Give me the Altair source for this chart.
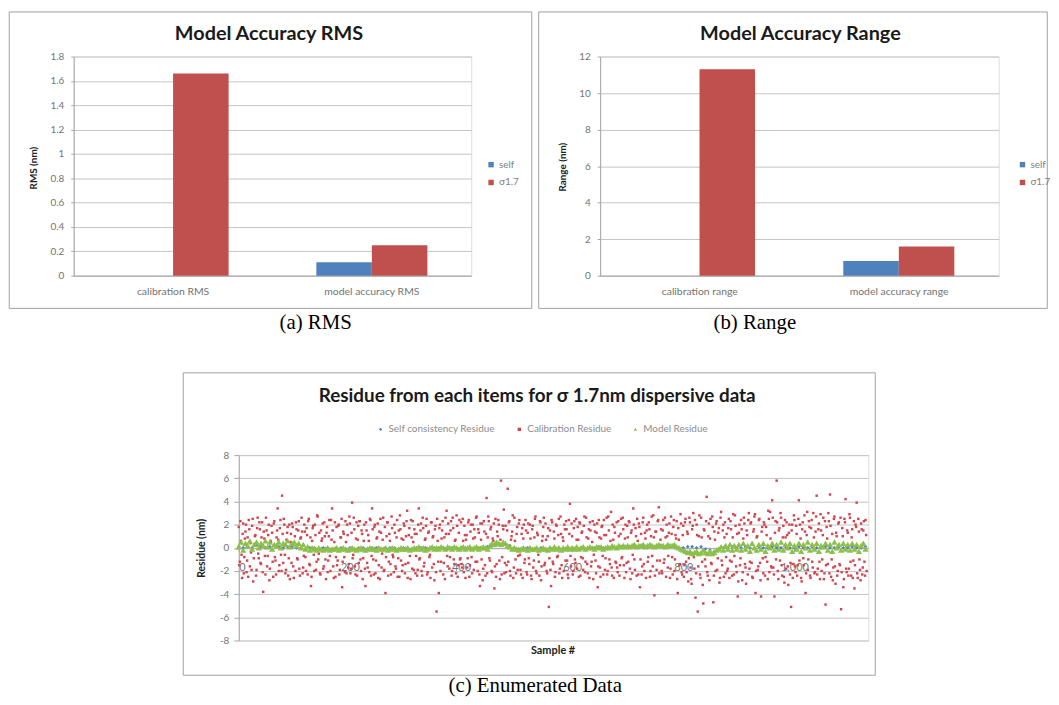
import altair as alt
import pandas as pd

# ---------------- Panel (a) data ----------------
rms_categories = ["calibration RMS", "model accuracy RMS"]
rms_self = [None, 0.11]
rms_sigma = [1.66, 0.25]

# ---------------- Panel (b) data ----------------
range_categories = ["calibration range", "model accuracy range"]
range_self = [None, 0.8]
range_sigma = [11.3, 1.6]

bar_series = ["self", "σ1.7"]
bar_colors = ["#4F81BD", "#C0504D"]

# ---------------- Panel (c) data ----------------
res_series = ["Self consistency Residue", "Calibration Residue", "Model Residue"]
res_colors = ["#4F81BD", "#D0454F", "#8DC04A"]
res_shapes = ["diamond", "square", "triangle-up"]

# Calibration residue at even samples (0, 2, 4, ...)
calib_residue_even = [
    1.8, -1.2, 0.6, -2.6, 2.1, -0.8, 1.4, -2.1, 0.9, 2.4, -1.6, -0.4, 1.9, -2.9, 0.3, 1.1, -1.9, 2.6, -0.9, 1.6,
    -1.4, 2.2, -3.8, 0.8, -2.3, 1.5, -0.7, 2.0, -1.8, 0.5, 1.3, -2.5, 2.3, -1.1, 0.9, 3.4, -2.0, 1.7, -0.6, 4.5,
    -1.3, 2.0, -2.2, 0.7, 1.8, -0.9, -2.7, 1.2, 2.1, -1.6, 0.4, -2.0, 1.6, -1.0, 2.3, -2.4, 0.9, 1.4, -1.7, 2.0,
    -0.8, 1.7, -2.3, 2.5, -1.5, -3.3, 0.6, 1.9, -2.0, 1.1, -1.2, 2.7, -0.5, -2.2, 1.5, 0.8, -1.8, 2.2, -1.0, 1.3,
    -2.1, 1.0, -0.7, 2.4, 3.4, -1.6, 0.5, -2.5, 1.8, -1.1, 2.0, -1.9, 0.9, -3.4, 1.4, -0.8, 2.3, -2.2, 1.1, -1.4,
    2.1, -1.8, 3.9, -0.6, 1.6, -2.3, 2.2, 0.7, -1.3, 2.3, -2.0, 1.2, -0.9, 2.0, -3.3, 1.5, -1.7, 0.6, 2.5, -2.4,
    3.4, -1.0, 1.8, -2.2, 0.8, 2.1, -1.5, -2.7, 1.3, -0.5, 2.6, -1.9, -3.9, 1.0, 2.2, -1.2, 0.6, -2.3, 1.7, -0.8,
    2.0, -1.6, 0.9, -2.5, 1.5, 2.8, -1.1, -2.0, 0.7, 1.9, -1.4, 2.3, -2.6, 1.1, -0.7, 2.4, -1.8, 0.5, 1.6, -2.2,
    1.2, -1.9, 3.4, -0.9, 2.1, -2.4, 1.7, -1.3, 0.8, 2.5, -2.1, 1.4, -0.6, 2.2, -1.7, 1.0, -2.8, 1.9, -5.5, 0.6,
    -3.9, 2.0, -1.2, 1.5, -2.3, 0.9, 2.6, 3.2, -1.6, 1.2, -0.8, 2.3, -2.0, 1.7, -1.4, 0.7, 2.8, -2.5, 1.3, -1.0,
    2.2, -1.7, 0.6, 1.9, -2.6, 1.1, -0.9, 2.4, -1.5, 2.0, -2.2, 0.8, 1.6, -1.2, 2.7, -2.0, 1.3, -3.3, 0.7, 2.1,
    -1.8, 1.4, -2.4, 4.3, 0.9, 2.3, -1.1, 1.8, -2.1, 0.6, -3.5, 2.5, -1.4, 1.0, 2.0, -2.7, 5.8, -0.8, 1.6, -2.2,
    1.9, -1.5, 5.1, 2.2, -2.0, 0.7, 1.4, -2.6, 2.6, -1.0, 1.2, -1.9, 2.1, -0.6, -2.3, 1.7, 0.8, -1.3, 2.4, -2.1,
    1.3, -0.9, 2.0, -2.4, 1.6, -1.7, 0.9, 2.7, -2.2, 1.1, -1.2, 2.3, -2.8, 0.6, 1.8, -1.5, 2.1, -2.0, 1.0, -5.1,
    1.5, -3.3, 2.2, -1.4, 0.8, -2.1, 1.9, -0.7, 2.5, -1.8, 1.2, -2.6, 0.6, 2.0, -1.1, 1.6, -2.3, 2.4, 3.8, -1.6,
    1.0, -2.0, 2.3, -1.3, 0.7, 1.8, -2.5, 2.1, -0.8, 1.4, -1.9, 2.7, -1.2, 0.9, -2.2, 1.6, 2.2, -1.6, 0.5, -2.7,
    2.0, -1.1, 1.3, -3.4, 2.4, -1.7, 0.8, 1.9, -2.3, 1.1, -0.9, 2.6, -2.0, 1.5, -1.4, 3.1, -2.4, 0.7, 1.8, -1.2,
    2.2, -2.1, 1.0, -1.5, 2.5, -0.8, 1.6, -2.6, 2.0, -1.3, 0.9, 2.3, -1.8, 1.3, -2.2, 3.4, -1.0, 1.7, -2.4, 0.6,
    2.1, -3.4, 1.2, -1.6, 2.6, -2.0, 0.8, 1.5, -1.2, 2.2, -2.5, 1.0, -0.7, 2.8, -4.1, 1.4, -1.9, 2.3, 3.5, -1.1,
    1.6, -2.2, 2.4, -1.0, 0.9, 2.0, -1.7, 1.3, -2.6, 2.7, -0.8, 1.8, -2.0, 1.1, 2.3, -3.9, 0.7, -1.4, 2.1, -2.3,
    1.9, -1.5, 2.5, -2.1, 1.2, -0.9, 2.2, -2.7, 1.6, 3.0, -1.8, -4.3, 2.0, -5.5, 1.0, -2.3, 2.6, -1.2, -4.8, 1.5,
    -1.6, 4.4, -2.4, 2.1, 0.8, -1.3, 2.7, -4.7, 1.4, -2.0, 2.3, -0.9, 1.7, -2.6, 3.1, -1.5, 2.0, 0.9, -2.2, 1.2,
    -1.8, 2.5, -1.1, 1.6, -2.4, 2.9, -0.7, 1.9, -2.1, -4.2, 1.3, -1.5, 2.4, -2.8, 0.8, 2.1, -1.7, 1.5, -2.3, 3.0,
    -1.2, 2.2, -2.5, 1.4, 2.7, -3.9, 0.9, -1.9, 2.4, -1.3, -4.2, 1.8, -2.2, 2.0, -0.8, 1.1, -2.7, 2.5, 3.1, -1.6,
    4.1, -1.7, -4.2, 2.3, 5.8, -2.0, 1.5, -1.1, 2.6, -2.4, 1.9, -3.0, 0.9, 2.2, -1.6, 1.3, -2.3, -5.1, 2.0, -1.4,
    2.4, -2.1, 1.2, -1.5, 4.1, 2.0, -2.6, 1.6, -0.9, 2.8, -3.9, 1.1, -1.9, 2.3, -2.4, 1.7, -1.2, 3.0, -2.2, 1.4,
    4.5, -1.8, 2.1, -2.7, 1.5, -1.0, 2.6, -2.2, -4.9, 1.8, -1.4, 2.3, 4.6, -2.5, 1.2, -1.7, 2.7, -3.1, 1.0, -2.0,
    2.2, -1.5, -5.3, 1.7, -3.4, 2.5, 4.2, -2.1, 1.3, -1.8, 2.6, -2.4, 1.6, -1.1, -3.5, 2.0, 3.9, -2.6, 1.4, -1.9,
    2.1, -2.3, 1.5, -1.2, 2.4, -2.0,
]

# Calibration residue at odd samples (1, 3, 5, ...)
calib_residue_odd = [
    -1.5, 2.3, -0.6, 1.2, -2.2, 0.8, 2.0, -1.1, -2.5, 1.6, 0.4, -1.9, 2.5, -0.9, 1.0, -2.4, 1.7, -0.5, 2.2, -1.3,
    0.9, -2.1, 1.4, -0.7, 2.6, -1.6, 1.1, -2.8, 0.6, 1.9, -1.2, 2.1, -0.8, -2.3, 1.5, 0.7, -1.5, 2.4, -2.0, 1.2,
    2.5, -0.6, -1.9, 1.3, -2.4, 2.0, 0.5, -1.3, 1.8, -2.6, 1.0, 2.2, -0.9, 1.5, -1.8, 0.8, 2.6, -2.2, -0.7, 1.4,
    -2.0, 1.1, 2.3, -1.4, 0.9, -2.5, 1.7, -0.6, 2.0, -1.9, 2.8, -1.0, 1.3, -2.3, 0.6, 2.1, -1.6, 1.0, -2.7, 1.8,
    -1.1, 2.4, -2.0, 0.7, 1.5, -2.6, 2.2, -0.8, -1.5, 1.9, -2.3, 0.9, 2.5, -1.2, 1.2, -2.1, 0.5, 2.0, -1.7, 2.7,
    -2.2, 1.3, -0.9, 2.6, -1.6, 0.8, -2.4, 1.9, 2.3, -1.0, 1.5, -2.7, 0.6, -1.8, 2.2, -1.3, 1.1, -2.1, 2.4, -0.7,
    1.6, -2.3, 2.0, -1.1, 0.9, -2.6, 1.4, 2.5, -1.7, 0.7, -2.0, 1.8, -0.8, 2.2, -2.4, 1.2, -1.4, 2.7, -0.6, -2.1,
    1.3, -1.8, 2.4, -0.9, -2.5, 1.6, 0.8, -1.5, 2.1, -2.2, 1.0, 3.2, -1.3, 1.7, -2.7, 0.9, 2.3, -1.9, 1.2, -0.7,
    -2.4, 2.0, -1.0, 1.5, -2.0, 2.6, -1.6, 0.7, 1.9, -2.3, 1.3, -0.8, -2.6, 2.2, 0.9, -1.4, 1.6, -2.1, 2.5, -1.2,
    1.7, -2.0, 0.8, 2.3, -1.3, -2.7, 1.2, -0.7, 2.1, -1.8, 1.5, -2.4, 2.6, -1.0, 0.6, -2.2, 1.9, -1.5, 2.4, -0.9,
    -1.4, 2.5, -2.1, 1.1, 0.7, -1.7, 2.2, -2.5, 1.4, -0.8, 2.0, -1.9, 0.9, 2.6, -1.2, 1.6, -2.3, 2.1, -1.0, -2.8,
    2.3, -1.5, 1.2, -2.2, 2.7, -0.9, 1.6, -2.0, 0.8, 2.1, -1.6, -2.5, 1.4, 2.4, -1.1, 0.7, -2.3, 1.9, 3.3, -1.3,
    -2.1, 1.5, -1.2, 2.3, -2.4, 1.0, 2.8, -1.7, 0.6, -2.2, 1.8, -0.7, 2.4, -1.9, 1.2, -2.6, 2.0, -1.0, 1.5, -2.3,
    2.1, -1.4, 0.8, -2.7, 1.9, -1.1, 2.5, -2.0, 1.3, -0.6, -2.4, 2.2, -1.6, 1.0, 2.6, -1.3, 0.7, -2.2, 1.7, -0.9,
    -1.9, 2.4, -1.2, 1.4, -2.5, 2.0, -0.8, 1.1, -2.2, 2.7, -1.5, 0.9, -2.0, 1.6, 2.3, -1.1, -2.6, 1.2, -0.7, 2.1,
    -2.3, 1.7, -1.0, 2.5, -1.8, 0.7, 2.2, -2.4, 1.3, -0.9, 1.9, -2.1, 2.6, -1.4, 0.8, -2.6, 1.5, -1.2, 2.3, -0.6,
    1.4, -2.2, 2.1, -1.6, 0.9, -2.5, 1.8, -0.7, 2.4, -1.9, 1.1, -2.3, 2.7, -1.0, 0.6, -1.7, 2.0, -2.6, 1.3, -1.3,
    -1.7, 2.3, -2.4, 1.2, -0.9, 2.6, -1.5, 0.8, -2.1, 1.9, -1.2, 2.2, -2.7, 1.5, -0.6, 2.0, -1.9, 1.0, 2.5, -2.3,
    1.8, -1.0, -2.3, 2.2, -1.4, 1.3, -2.6, 2.0, -0.8, 1.6, -2.0, 2.7, -1.6, 0.9, -2.4, 1.4, -1.1, 2.4, -2.2, 0.7,
    -2.0, 1.5, -1.3, 2.6, -2.5, 1.0, -0.7, 2.1, -1.8, 1.2, -2.3, 2.4, -1.0, 0.8, -2.7, 1.7, -1.5, 2.9, -2.1, 1.1,
    -2.5, 2.2, -1.2, 1.4, -2.9, 2.6, -1.7, -3.1, 1.9, -0.8, 2.4, -2.2, 1.1, -1.6, 2.8, -2.6, 0.9, -3.2, 1.6, -1.0,
    2.3, -2.1, 1.0, -2.8, 2.5, -1.4, 1.8, -2.4, 0.7, 2.1, -1.9, 1.3, -3.0, 2.6, -1.1, 1.5, -2.5, 2.2, -0.8, -2.0,
    1.7, -2.6, 2.3, -1.2, 0.9, -2.3, 2.8, -1.6, 1.2, -2.9, 2.0, -0.9, 1.6, -2.1, 2.6, -1.4, -3.1, 1.1, 2.4, -1.8,
    2.1, -1.3, -2.6, 1.6, 2.9, -2.0, 1.0, -1.6, 2.5, -2.8, 1.4, -0.9, 2.2, -2.4, 1.8, -1.2, 3.2, -2.1, 0.8, -1.7,
    2.6, -2.3, 1.3, -1.0, 2.2, -2.7, 1.7, 3.0, -1.5, 0.9, -2.5, 2.4, -1.8, 1.1, -3.2, 2.0, -1.3, 1.5, -2.6, 2.8,
    -1.6, 1.9, -2.4, 2.5, -1.1, 0.8, -2.9, 2.2, -1.5, 1.4, -2.2, 3.1, -1.0, 1.8, -2.6, 2.4, -1.7, 0.9, -2.1, 2.7,
    -2.3, 1.6, -1.2, 2.9, -2.0, 1.1, -2.7, 2.3, -1.5, 0.8, 3.0, -2.2, 1.9, -1.0, -2.8, 2.5, -1.6, 1.3, -2.4, 2.1,
    -1.4, 2.6, -2.1, 1.0, -2.7, 2.2, -1.8, 1.5, -2.4, 2.9, -1.2, 0.9, -2.6, 2.3, -1.5, 1.8, -2.2, 2.5, -1.0, -2.8,
    1.6, -1.7, 2.3, -2.4, 1.1,
]

# Model residue, every 4th sample (0, 4, 8, ...)
model_residue = [
    0.1, 0.5, -0.2, 0.4, 0.2, 0.6, -0.1, 0.3, 0.5, 0.0, 0.4, 0.2, 0.6, 0.1, 0.5, -0.1, 0.3, 0.2, 0.5, 0.0, 0.4, 0.3, 0.6, 0.1, 0.4,
    0.5, 0.2, 0.4, 0.0, 0.3, -0.1, 0.1, -0.2, 0.0, -0.1, -0.2, 0.0, -0.1, -0.2, -0.1, 0.0, -0.2, -0.1, -0.1, 0.0, -0.2, -0.1, 0.0, -0.1, -0.2,
    -0.1, 0.0, -0.1, -0.2, -0.1, 0.0, -0.1, -0.2, -0.1, 0.0, -0.1, -0.1, -0.2, 0.0, -0.1, -0.1, 0.0, -0.2, -0.1, 0.0, -0.1, -0.2, -0.1, 0.0, -0.1,
    -0.1, 0.0, -0.2, -0.1, 0.0, -0.1, 0.1, -0.1, 0.0, -0.2, -0.1, 0.0, 0.1, -0.1, 0.0, -0.1, 0.1, 0.0, -0.1, 0.1, 0.0, -0.1, 0.1, 0.0, -0.1,
    0.0, 0.1, -0.1, 0.0, 0.1, -0.1, 0.0, 0.1, -0.1, 0.0, 0.1, 0.0, -0.1, 0.2, 0.4, 0.3, 0.5, 0.4, 0.3, 0.5, 0.4, 0.2, 0.1, -0.1, 0.0,
    -0.1, -0.2, -0.1, 0.0, -0.1, -0.2, 0.0, -0.1, -0.1, 0.0, -0.2, -0.1, 0.0, -0.1, -0.2, 0.0, -0.1, 0.1, -0.1, 0.0, -0.2, 0.0, -0.1, 0.1, -0.1,
    0.0, -0.1, 0.1, -0.1, 0.0, 0.1, -0.1, 0.0, 0.1, 0.0, -0.1, 0.1, 0.0, 0.1, -0.1, 0.0, 0.1, 0.0, 0.2, 0.1, 0.0, 0.2, 0.1, 0.2, 0.1,
    0.2, 0.1, 0.2, 0.3, 0.1, 0.2, 0.2, 0.3, 0.1, 0.2, 0.3, 0.2, 0.1, 0.2, 0.3, 0.2, 0.2, 0.1, 0.3, 0.2, 0.2, 0.3, 0.1, 0.0, -0.1,
    -0.2, -0.3, -0.4, -0.3, -0.5, -0.4, -0.3, -0.5, -0.4, -0.2, -0.4, -0.5, -0.3, -0.5, -0.4, -0.2, -0.1, 0.1, -0.2, 0.2, -0.1, 0.3, -0.2, 0.2, -0.1,
    0.3, -0.2, 0.4, -0.1, 0.2, -0.3, 0.4, 0.0, -0.2, 0.3, -0.1, 0.4, -0.3, 0.2, 0.0, 0.4, -0.2, 0.3, -0.1, 0.5, -0.2, 0.3, 0.0, 0.4, -0.3,
    0.2, -0.1, 0.4, -0.3, 0.3, 0.0, 0.5, -0.2, 0.3, -0.1, 0.4, -0.3, 0.2, 0.1, 0.4, -0.2, 0.3, -0.3, 0.5, 0.0, 0.3, -0.2, 0.4, -0.1, 0.3,
    -0.2, 0.4, -0.1, 0.3, -0.3, 0.2, 0.4, -0.1,
]

# Self-consistency residue, every 8th sample (0, 8, 16, ...)
self_residue = [
    0.1, 0.0, 0.1, 0.0, 0.2, 0.1, 0.0, 0.1, 0.2, 0.1, 0.0, 0.1, 0.1, 0.0, 0.0, -0.1, 0.0, 0.0, -0.1, 0.0, 0.0, -0.1, 0.0, 0.0, -0.1,
    0.0, -0.1, 0.0, 0.0, -0.1, 0.0, 0.0, -0.1, 0.0, 0.0, 0.0, -0.1, 0.0, 0.0, -0.1, 0.0, 0.0, 0.0, -0.1, 0.0, 0.0, 0.0, -0.1, 0.0, 0.0,
    0.0, 0.0, -0.1, 0.0, 0.0, 0.0, 0.1, 0.2, 0.3, 0.3, 0.3, 0.2, 0.0, -0.1, 0.0, 0.0, -0.1, 0.0, 0.0, -0.1, 0.0, 0.0, 0.0, -0.1, 0.0,
    0.0, 0.0, 0.0, -0.1, 0.0, 0.0, 0.1, 0.0, 0.0, 0.1, 0.0, 0.1, 0.1, 0.1, 0.2, 0.1, 0.1, 0.2, 0.1, 0.1, 0.2, 0.1, 0.1, 0.1, 0.0,
    0.0, 0.1, 0.1, 0.0, 0.1, -0.1, -0.2, -0.3, -0.1, 0.0, 0.0, 0.1, 0.0, 0.0, 0.1, 0.0, 0.0, 0.1, 0.0, 0.0, 0.1, 0.0, 0.0, 0.1, 0.0,
    0.0, 0.1, 0.0, 0.0, 0.1, 0.0, 0.0, 0.1, 0.0, 0.0, 0.1, 0.0, 0.0, 0.1, 0.0, 0.0, 0.1,
]

x_ticks = [0, 200, 400, 600, 800, 1000]
y_ticks_c = [-8, -6, -4, -2, 0, 2, 4, 6, 8]

FONT = "Lato"
SERIF = "Liberation Serif"
GRID = "#c4c4c4"
AXIS = "#a6a6a6"
LABEL = "#737373"


def text_layer(text, x, y, size, font=FONT, weight="normal", color="#000000"):
    return alt.Chart(pd.DataFrame({"t": [text]})).mark_text(
        font=font, fontSize=size, fontWeight=weight, color=color,
        align="center", baseline="middle"
    ).encode(text="t:N", x=alt.value(x), y=alt.value(y))


def frame_layer(x1, x2, y1, y2):
    return alt.Chart(pd.DataFrame({"f": [0]})).mark_rect(
        fill="transparent", stroke="#a0a0a0", strokeWidth=1
    ).encode(x=alt.value(x1), x2=alt.value(x2), y=alt.value(y1), y2=alt.value(y2))


def pad_layer(x1, x2, y1, y2):
    # white, invisible spacer on the white page (keeps the panel's layout box)
    return alt.Chart(pd.DataFrame({"f": [0]})).mark_rect(
        fill="white", strokeWidth=0
    ).encode(x=alt.value(x1), x2=alt.value(x2), y=alt.value(y1), y2=alt.value(y2))


def bar_panel(cats, self_vals, sig_vals, ymax, yticks, ytitle, title, caption,
              W, H, frame, title_xy, caption_xy, legend_xy, ytitle_xy):
    rows = []
    for c, s, g in zip(cats, self_vals, sig_vals):
        if s is not None:
            rows.append({"cat": c, "series": bar_series[0], "value": s})
        if g is not None:
            rows.append({"cat": c, "series": bar_series[1], "value": g})
    df = pd.DataFrame(rows)
    bars = alt.Chart(df).mark_bar().encode(
        x=alt.X("cat:N", sort=cats,
                scale=alt.Scale(domain=cats, paddingInner=0, paddingOuter=0),
                axis=alt.Axis(title=None, labelAngle=0, ticks=False, domainColor=AXIS,
                              labelFont=FONT, labelFontSize=10.5, labelColor=LABEL,
                              labelPadding=11)),
        xOffset=alt.XOffset("series:N",
                            scale=alt.Scale(domain=bar_series, paddingInner=0, paddingOuter=0.79)),
        y=alt.Y("value:Q", scale=alt.Scale(domain=[0, ymax], nice=False),
                axis=alt.Axis(values=yticks, labelExpr="'' + datum.value", grid=True,
                              gridColor=GRID, domainColor=AXIS, tickColor=AXIS, tickSize=3,
                              labelFont=FONT, labelFontSize=10, labelColor=LABEL, labelPadding=7,
                              title=ytitle, titleFont=FONT, titleFontSize=10, titleFontWeight="bold",
                              titleColor="#222222", titleAngle=-90, titleX=ytitle_xy[0],
                              titleY=ytitle_xy[1], titleBaseline="middle", titleAlign="center")),
        color=alt.Color("series:N", scale=alt.Scale(domain=bar_series, range=bar_colors),
                        legend=alt.Legend(title=None, orient="none", legendX=legend_xy[0],
                                          legendY=legend_xy[1], symbolType="square",
                                          symbolSize=30, symbolStrokeWidth=0,
                                          labelFont=FONT, labelFontSize=10, labelColor="#808080",
                                          rowPadding=8, labelOffset=3)),
    )
    return alt.layer(
        frame_layer(*frame),
        bars,
        text_layer(title, title_xy[0], title_xy[1], 20, weight="bold", color="#1a1a1a"),
        text_layer(caption, caption_xy[0], caption_xy[1], 21, font=SERIF),
    ).properties(width=W, height=H)


panel_a = bar_panel(rms_categories, rms_self, rms_sigma, 1.8,
                    [0, 0.2, 0.4, 0.6, 0.8, 1, 1.2, 1.4, 1.6, 1.8], "RMS (nm)",
                    "Model Accuracy RMS", "(a) RMS", 401, 221,
                    (-65, 462, -45, 254), (197, -23), (244, 269), (416, 104), (-41, 112))

panel_b = bar_panel(range_categories, range_self, range_sigma, 12,
                    [0, 2, 4, 6, 8, 10, 12], "Range (nm)",
                    "Model Accuracy Range", "(b) Range", 402, 221,
                    (-62, 451, -45, 254), (202, -23), (156, 269), (421, 104), (-38, 111))

# ---------- Panel (c) ----------
self_df = pd.DataFrame({"sample": [i * 8 for i in range(len(self_residue))],
                        "value": self_residue, "series": res_series[0]})
calib_df = pd.DataFrame({
    "sample": [i * 2 for i in range(len(calib_residue_even))]
              + [i * 2 + 1 for i in range(len(calib_residue_odd))],
    "value": calib_residue_even + calib_residue_odd,
    "series": res_series[1]})
model_df = pd.DataFrame({"sample": [i * 4 for i in range(len(model_residue))],
                         "value": model_residue, "series": res_series[2]})

CW, CH = 635, 187
x_enc = alt.X("sample:Q", scale=alt.Scale(domain=[0, 1133], nice=False, zero=False),
              axis=alt.Axis(values=x_ticks, title=None, grid=False, offset=-CH / 2,
                            domainColor=AXIS, tickColor=AXIS, tickSize=4,
                            labelFont=FONT, labelFontSize=11, labelColor=LABEL, labelPadding=10))
y_enc = alt.Y("value:Q", scale=alt.Scale(domain=[-8, 8], nice=False),
              axis=alt.Axis(values=y_ticks_c, labelExpr="'' + datum.value", grid=True,
                            gridColor=GRID, domainColor=AXIS, tickColor=AXIS, tickSize=5,
                            labelFont=FONT, labelFontSize=10, labelColor=LABEL, labelPadding=5,
                            title="Residue  (nm)", titleFont=FONT, titleFontSize=10.5,
                            titleFontWeight="bold", titleColor="#222222", titleAngle=-90,
                            titleX=-38, titleY=CH / 2, titleBaseline="middle", titleAlign="center"))
c_enc = alt.Color("series:N", scale=alt.Scale(domain=res_series, range=res_colors),
                  legend=alt.Legend(title=None, orient="none", direction="horizontal",
                                    legendX=138, legendY=-31, symbolSize=12,
                                    labelFont=FONT, labelFontSize=10, labelColor="#8c8c8c",
                                    columnPadding=19, labelOffset=3))
s_enc = alt.Shape("series:N", scale=alt.Scale(domain=res_series, range=res_shapes))


def point_layer(df, size):
    return alt.Chart(df).mark_point(filled=True, opacity=1, size=size).encode(
        x=x_enc, y=y_enc, color=c_enc, shape=s_enc)


panel_c = alt.layer(
    pad_layer(651, 652, 100, 101),
    frame_layer(-56, 642, -83, 222),
    point_layer(self_df, 14),
    point_layer(calib_df, 6),
    point_layer(model_df, 40),
    text_layer("Residue from each items for σ 1.7nm dispersive data", 301, -60, 19,
               weight="bold", color="#1a1a1a"),
    text_layer("Sample #", 317, 198, 11, weight="bold", color="#222222"),
    text_layer("(c) Enumerated Data", 299, 233, 21, font=SERIF),
).properties(width=CW, height=CH)

top = alt.hconcat(panel_a, panel_b, spacing=5).resolve_scale(
    color="independent"
).resolve_legend(color="independent")

chart = alt.vconcat(top, panel_c, spacing=38, center=True).resolve_scale(
    color="independent", shape="independent"
).resolve_legend(
    color="independent", shape="independent"
).properties(padding=0).configure_view(strokeWidth=0).configure(background="white")

chart.save("out.html", embed_options={"renderer": "svg", "actions": False})
